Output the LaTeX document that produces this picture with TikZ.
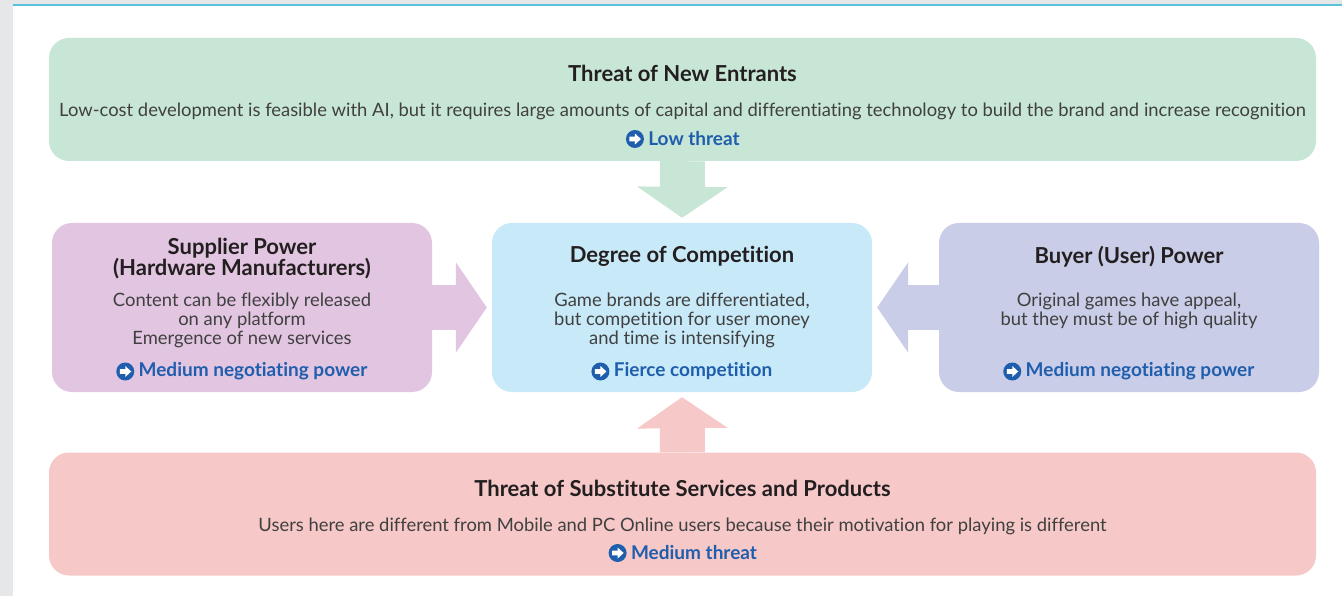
\documentclass[tikz,border=0pt]{standalone}
\usepackage{fontspec}
\setmainfont{Lato}[Ligatures=NoCommon]
\usetikzlibrary{arrows.meta,positioning}
\definecolor{entrgreen}{HTML}{C8E6D5}
\definecolor{supppink}{HTML}{E2C5E0}
\definecolor{compblue}{HTML}{C8E9F8}
\definecolor{buyerlilac}{HTML}{C9CDE7}
\definecolor{substred}{HTML}{F6C8C8}
\definecolor{titlegray}{HTML}{231F20}
\definecolor{bodygray}{HTML}{404040}
\definecolor{resblue}{HTML}{1F5EAD}
\definecolor{framegray}{HTML}{E6E7E9}
\definecolor{framecyan}{HTML}{5BC2DE}

\newcommand{\goarrow}[1]{\fill[white] (#1.center) ++(-5.5,-2.3) -- ++(5.5,0) -- ++(0,-3.2) -- ++(6,5.5) -- ++(-6,5.5) -- ++(0,-3.2) -- ++(-5.5,0) -- cycle;}

\begin{document}
\begin{tikzpicture}[x=1pt, y=-1pt]
    % Styles
    \tikzstyle{force} = [rectangle, rounded corners=20pt, minimum width=380pt, minimum height=169pt, inner sep=0pt]
    \tikzstyle{wide} = [force, minimum width=1267pt, minimum height=123pt]
    \tikzstyle{title} = [font=\fontsize{22}{21}\selectfont\bfseries, text=titlegray, align=center, inner sep=0pt]
    \tikzstyle{body} = [font=\fontsize{18.4}{19}\selectfont, text=bodygray, align=center, inner sep=0pt]
    \tikzstyle{result} = [font=\fontsize{19}{19}\selectfont\bfseries, text=resblue, inner sep=0pt]
    \tikzstyle{icon} = [circle, fill=resblue, minimum size=18pt, inner sep=0pt]
    \tikzstyle{push} = [line width=45pt, -{Triangle[length=31pt 0 0, width=89pt 0 0]}, shorten >=5pt]

    % Frame
    \useasboundingbox (0,0) rectangle (1342,596);
    \fill[white] (0,0) rectangle (1342,596);
    \fill[framegray] (0,0) rectangle (13,596);
    \fill[framegray] (0,0) rectangle (1342,4);
    \fill[framecyan] (13,4) rectangle (1342,6);

    % Boxes
    \node[wide, fill=entrgreen] (entr) at (682.5, 99.5) {};
    \node[force, fill=supppink] (supp) at (242, 307.5) {};
    \node[force, fill=compblue] (comp) at (682, 307.5) {};
    \node[force, fill=buyerlilac] (buyer) at (1129, 307.5) {};
    \node[wide, fill=substred] (subst) at (682.5, 514) {};

    % Arrows
    \draw[push, entrgreen] (entr.south) -- (comp.north);
    \draw[push, supppink] (supp.east) -- (comp.west);
    \draw[push, buyerlilac] (buyer.west) -- (comp.east);
    \draw[push, substred] (subst.north) -- (comp.south);

    % Threat of new entrants
    \node[title] (entrT) at (682.5, 73) {Threat of New Entrants};
    \node[body] (entrB) at (682.5, 111.5) {Low-cost development is feasible with AI, but it requires large amounts of capital and differentiating technology to build the brand and increase recognition};
    \node[result] (entrR) at (694, 139) {Low threat};
    \node[icon, left=4pt of entrR] (entrI) {};
    \goarrow{entrI}

    % Supplier power
    \node[title] (suppT) at (242, 259) {Supplier Power\\(Hardware Manufacturers)};
    \node[body] (suppB) at (242, 320) {Content can be flexibly released\\on any platform\\Emergence of new services};
    \node[result] (suppR) at (253, 371.5) {Medium negotiating power};
    \node[icon, left=4pt of suppR] (suppI) {};
    \goarrow{suppI}

    % Degree of competition
    \node[title] (compT) at (682, 256.5) {Degree of Competition};
    \node[body] (compB) at (682, 320) {Game brands are differentiated,\\but competition for user money\\and time is intensifying};
    \node[result] (compR) at (693, 371.5) {Fierce competition};
    \node[icon, left=4pt of compR] (compI) {};
    \goarrow{compI}

    % Buyer power
    \node[title] (buyerT) at (1129, 256.5) {Buyer (User) Power};
    \node[body] (buyerB) at (1129, 310.5) {Original games have appeal,\\but they must be of high quality};
    \node[result] (buyerR) at (1140, 371.5) {Medium negotiating power};
    \node[icon, left=4pt of buyerR] (buyerI) {};
    \goarrow{buyerI}

    % Threat of substitutes
    \node[title] (substT) at (682.5, 488.5) {Threat of Substitute Services and Products};
    \node[body] (substB) at (682.5, 526.5) {Users here are different from Mobile and PC Online users because their motivation for playing is different};
    \node[result] (substR) at (694, 553) {Medium threat};
    \node[icon, left=4pt of substR] (substI) {};
    \goarrow{substI}
\end{tikzpicture}
\end{document}
